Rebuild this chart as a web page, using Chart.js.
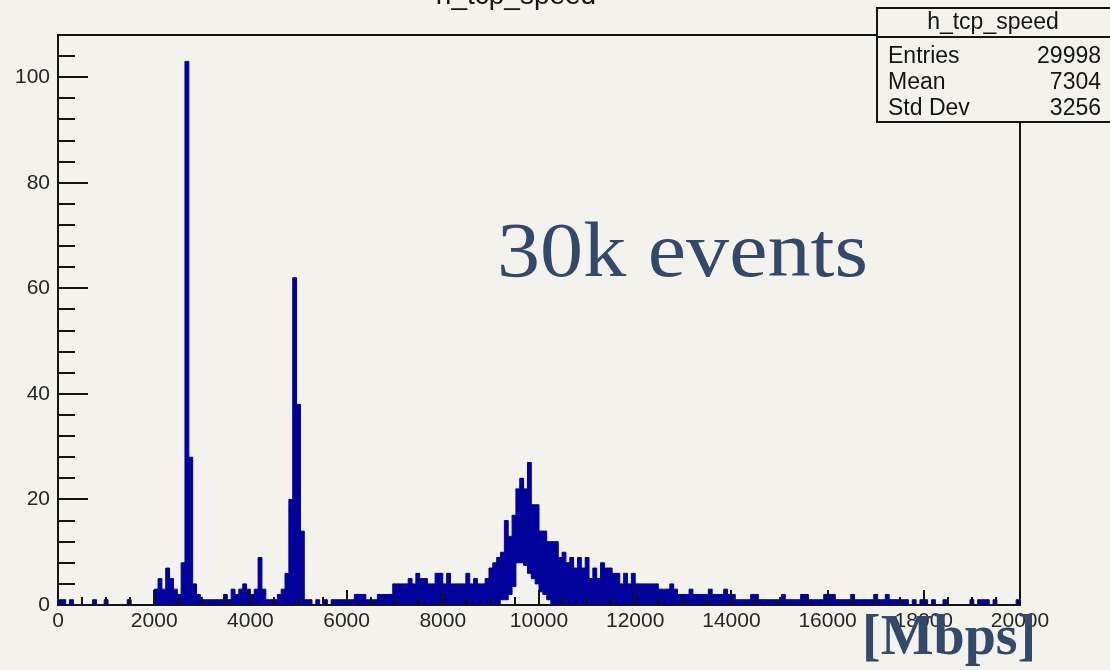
<!DOCTYPE html>
<html>
<head>
<meta charset="utf-8">
<title>h_tcp_speed</title>
<script src="https://cdn.jsdelivr.net/npm/chart.js@4/dist/chart.umd.min.js"></script>
<style>
  html, body { margin: 0; padding: 0; background: #f4f2ed; }
  canvas { display: block; }
</style>
</head>
<body>
<canvas id="c" width="1110" height="670"></canvas>
<script>
// Histogram binning: 250 bins of 80 Mbps over 0 - 20000 Mbps
const binWidth = 80;
const xMin = 0;
const xMax = 20000;
const yMax = 108;

// Entries per bin, bins 0..249
const counts = [
  // 0 - 2000
  1, 1, 0, 1, 0, 0, 0, 0, 0, 1, 0, 0, 1, 0, 0, 0, 0, 0, 1, 0, 0, 0, 0, 0, 0,
  // 2000 - 3600
  3, 5, 3, 7, 5, 3, 2, 8, 103, 28, 4, 2, 1, 1, 1, 1, 1, 1, 2, 1,
  // 3600 - 5120
  3, 2, 3, 4, 3, 2, 3, 9, 3, 1, 1, 1, 2, 3, 6, 20, 62, 38, 14,
  // 5120 - 9200
  1, 1, 0, 1, 0, 1, 0, 1, 1, 1, 1, 1, 1, 2, 2, 2, 1, 1, 1, 2, 2, 2, 2, 4, 4, 4,
  4, 5, 4, 6, 5, 5, 4, 4, 6, 6, 4, 6, 4, 4, 4, 4, 6, 4, 5, 4, 4, 5, 7, 8, 9,
  // 9200 - 11200
  10, 16, 13, 17, 22, 24, 22, 27, 19, 19, 14, 14, 12, 12, 12, 9, 10, 8, 9, 7, 9, 7, 9, 5, 7,
  // 11200 - 14880
  5, 8, 7, 7, 6, 6, 4, 6, 4, 6, 4, 4, 4, 4, 4, 4, 3, 3, 3, 4, 3, 2, 2, 2, 3,
  2, 2, 2, 2, 3, 2, 2, 2, 3, 2, 2, 1, 1, 1, 1, 2, 2, 1, 1, 1, 1,
  // 14880 - 20000
  1, 1, 2, 1, 1, 1, 1, 2, 2, 1, 1, 1, 1, 2, 2, 2, 1, 1, 1, 1, 2, 1, 1, 1, 1,
  1, 2, 1, 1, 2, 1, 1, 1, 1, 1, 0, 1, 0, 1, 1, 0, 1, 0, 0, 1, 0, 0, 0, 0, 0,
  0, 1, 0, 1, 1, 1, 0, 1, 0, 0, 0, 0, 0, 1
];

// Unfilled pocket under the main peak (first bin index, then heights)
const pocketStartBin = 115;
const pocketHeights = [1, 1, 2, 3.5, 8, 8, 7.5, 6, 5, 4, 2.5, 2, 1];

// Axis ticks and labels
const xMajorTicks = [0, 2000, 4000, 6000, 8000, 10000, 12000, 14000, 16000, 18000, 20000];
const xMinorStep = 500;
const yMajorTicks = [0, 20, 40, 60, 80, 100];
const yMinorStep = 4;

// Statistics panel
const histName = 'h_tcp_speed';
const statNames = ['Entries', 'Mean', 'Std Dev'];
const statValues = ['29998', '7304', '3256'];

const BG = '#f4f2ed';
const HIST = '#00009a';
const INK = '#151515';
const NOTE = '#33496a';

function stepPoints(startBin, values) {
  const pts = values.map((v, k) => ({ x: xMin + (startBin + k) * binWidth, y: v }));
  pts.push({ x: xMin + (startBin + values.length) * binWidth, y: values[values.length - 1] });
  return pts;
}

const rootStyle = {
  id: 'rootStyle',
  beforeDraw(chart) {
    const ctx = chart.ctx;
    ctx.save();
    ctx.fillStyle = BG;
    ctx.fillRect(0, 0, chart.width, chart.height);
    ctx.restore();
  },
  afterDraw(chart) {
    const ctx = chart.ctx;
    const xs = chart.scales.x;
    const ys = chart.scales.y;
    const a = chart.chartArea;
    ctx.save();

    // frame
    ctx.strokeStyle = INK;
    ctx.lineWidth = 2;
    ctx.strokeRect(a.left, a.top, a.right - a.left, a.bottom - a.top);

    // x ticks, drawn inward from the bottom edge
    ctx.beginPath();
    for (let v = xMin; v <= xMax; v += xMinorStep) {
      const px = Math.round(xs.getPixelForValue(v));
      const len = xMajorTicks.includes(v) ? 15 : 8;
      ctx.moveTo(px, a.bottom);
      ctx.lineTo(px, a.bottom - len);
    }
    ctx.stroke();

    // y ticks, drawn inward from the left edge
    ctx.beginPath();
    for (let v = 0; v <= yMax; v += yMinorStep) {
      const py = Math.round(ys.getPixelForValue(v));
      const len = yMajorTicks.includes(v) ? 30 : 17;
      ctx.moveTo(a.left, py);
      ctx.lineTo(a.left + len, py);
    }
    ctx.stroke();

    // tick labels
    ctx.fillStyle = '#262626';
    ctx.font = '21px "Liberation Sans", Arial, sans-serif';
    ctx.textAlign = 'right';
    ctx.textBaseline = 'middle';
    yMajorTicks.forEach(v => ctx.fillText(String(v), a.left - 8, ys.getPixelForValue(v)));
    ctx.textAlign = 'center';
    xMajorTicks.forEach(v => ctx.fillText(String(v), xs.getPixelForValue(v), a.bottom + 16));

    // histogram title, mostly above the top edge of the page
    ctx.fillStyle = INK;
    ctx.font = '28px "Liberation Sans", Arial, sans-serif';
    ctx.textBaseline = 'alphabetic';
    ctx.fillText(histName, 516, 4);

    // statistics panel
    const bx = 877, by = 8, bw = 250, bh = 114;
    ctx.fillStyle = BG;
    ctx.fillRect(bx, by, bw, bh);
    ctx.strokeStyle = INK;
    ctx.lineWidth = 2;
    ctx.strokeRect(bx, by, bw, bh);
    ctx.beginPath();
    ctx.moveTo(bx, 37);
    ctx.lineTo(bx + bw, 37);
    ctx.stroke();
    ctx.fillStyle = INK;
    ctx.font = '23px "Liberation Sans", Arial, sans-serif';
    ctx.textAlign = 'center';
    ctx.textBaseline = 'middle';
    ctx.fillText(histName, 993, 23);
    ctx.textBaseline = 'alphabetic';
    const rowBase = [63, 89, 115];
    statNames.forEach((n, i) => {
      ctx.textAlign = 'left';
      ctx.fillText(n, 888, rowBase[i]);
      ctx.textAlign = 'right';
      ctx.fillText(statValues[i], 1101, rowBase[i]);
    });

    // annotations
    ctx.fillStyle = NOTE;
    ctx.textAlign = 'left';
    ctx.font = '78px "Liberation Serif", "Times New Roman", serif';
    const note = '30k events';
    const sx = 371 / ctx.measureText(note).width;
    ctx.save();
    ctx.translate(497, 276);
    ctx.scale(sx, 1);
    ctx.fillText(note, 0, 0);
    ctx.restore();

    ctx.font = 'bold 56px "Liberation Serif", "Times New Roman", serif';
    ctx.fillText('[Mbps]', 862, 654);

    ctx.restore();
  }
};

new Chart(document.getElementById('c'), {
  type: 'line',
  data: {
    datasets: [
      {
        label: histName,
        data: stepPoints(0, counts),
        stepped: 'before',
        fill: 'origin',
        backgroundColor: HIST,
        borderColor: HIST,
        borderWidth: 1,
        pointRadius: 0,
        order: 2
      },
      {
        label: 'pocket',
        data: stepPoints(pocketStartBin, pocketHeights),
        stepped: 'before',
        fill: 'origin',
        backgroundColor: BG,
        borderColor: HIST,
        borderWidth: 1,
        pointRadius: 0,
        order: 1
      }
    ]
  },
  options: {
    responsive: false,
    animation: false,
    devicePixelRatio: 1,
    events: [],
    layout: { padding: { left: 58, top: 35, right: 90, bottom: 65 } },
    scales: {
      x: { type: 'linear', min: xMin, max: xMax, display: false },
      y: { type: 'linear', min: 0, max: yMax, display: false }
    },
    plugins: { legend: { display: false }, tooltip: { enabled: false } }
  },
  plugins: [rootStyle]
});
</script>
</body>
</html>
